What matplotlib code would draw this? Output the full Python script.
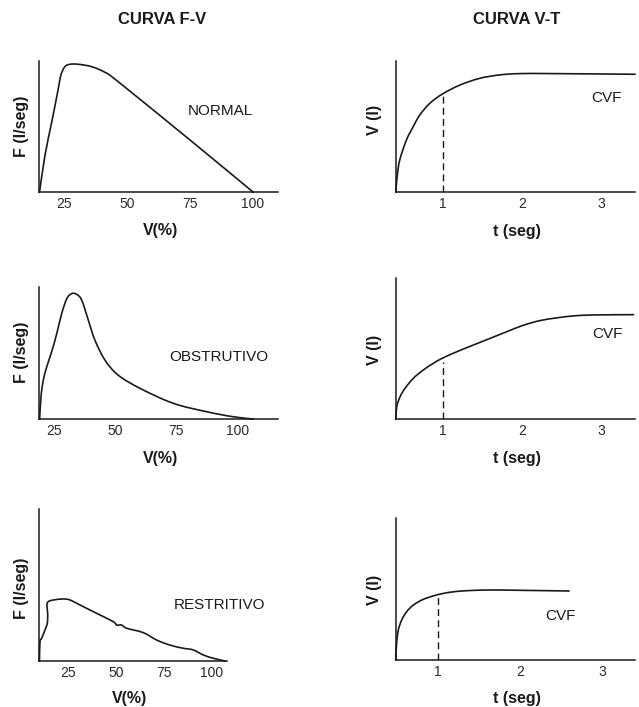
import matplotlib
matplotlib.use("Agg")
import matplotlib.pyplot as plt
from matplotlib.path import Path
from matplotlib.patches import PathPatch

plt.rcParams['font.family'] = ['Liberation Sans', 'DejaVu Sans']

W, H = 639, 707
INK = '#1a1a1a'

# ---------------- data ----------------
# F-V curves (V in %, F arbitrary units 0-10)
normal_v = [15.3, 17.5, 20.2, 22.8, 23.8, 25.4, 27.4, 30.7, 36.0, 41.3, 46.6, 75.0, 100.3]
normal_f = [0.0, 2.84, 5.38, 7.92, 8.93, 9.57, 9.75, 9.75, 9.57, 9.14, 8.42, 4.0, 0.0]

obst_v = [19.2, 19.75, 20.7, 22.1, 24.1, 26.2, 28.2, 30.3, 32.3, 34.3, 36.4, 39.1, 41.8,
          45.9, 51.3, 60.2, 73.8, 87.5, 98.3, 106.5]
obst_f = [0.0, 1.69, 2.95, 3.96, 5.10, 6.49, 8.0, 9.14, 9.52, 9.47, 9.02, 7.5, 5.98,
          4.47, 3.33, 2.33, 1.19, 0.55, 0.17, 0.0]

restr_v = [9.93, 10.19, 11.08, 12.8, 14.0, 14.2, 13.8, 14.5, 17.1, 22.4, 25.9, 31.1, 39.8,
           48.5, 50.2, 52.8, 55.4, 64.1, 71.1, 78.0, 85.0, 90.2, 95.4, 100.7, 106.8]
restr_f = [0.0, 1.27, 1.50, 2.04, 2.49, 3.14, 3.69, 3.91, 4.02, 4.09, 4.02, 3.69, 3.14,
           2.59, 2.37, 2.37, 2.16, 1.87, 1.38, 1.05, 0.84, 0.73, 0.40, 0.18, 0.0]

# V-T curves (t in s, V arbitrary units 0-10)
vt1_t = [0.41, 0.427, 0.46, 0.545, 0.63, 0.713, 0.84, 1.0, 1.22, 1.47, 1.72, 1.98, 2.40, 3.43]
vt1_v = [0.0, 1.19, 2.46, 3.99, 5.0, 5.89, 6.78, 7.49, 8.17, 8.68, 8.94, 9.04, 9.04, 8.99]

vt2_t = [0.409, 0.422, 0.464, 0.527, 0.632, 0.758, 0.884, 0.997, 1.18, 1.39, 1.60, 1.81,
         2.02, 2.23, 2.45, 2.65, 2.9, 3.41]
vt2_v = [0.0, 0.89, 1.60, 2.20, 2.91, 3.50, 3.97, 4.33, 4.79, 5.27, 5.74, 6.21,
         6.67, 7.0, 7.2, 7.33, 7.40, 7.42]

vt3_t = [0.489, 0.50, 0.521, 0.562, 0.623, 0.704, 0.825, 0.988, 1.15, 1.35, 1.64, 1.98, 2.60]
vt3_v = [0.0, 1.18, 2.12, 2.82, 3.41, 3.88, 4.28, 4.59, 4.78, 4.89, 4.94, 4.92, 4.87]

vef1_height = [7.49, 4.09, 4.59]   # dashed line at t=1 s

fv_ticks = [25, 50, 75, 100]
vt_ticks = [1, 2, 3]
fv_labels = ['NORMAL', 'OBSTRUTIVO', 'RESTRITIVO']
titles = ['CURVA F-V', 'CURVA V-T']

# ---------------- layout helpers ----------------
fig = plt.figure(figsize=(W / 100, H / 100), dpi=100)


def make_ax(l, r, t, b):
    ax = fig.add_axes([l / W, 1 - b / H, (r - l) / W, (b - t) / H])
    for s in ['top', 'right']:
        ax.spines[s].set_visible(False)
    for s in ['left', 'bottom']:
        ax.spines[s].set_linewidth(1.1)
        ax.spines[s].set_color(INK)
    ax.set_yticks([])
    ax.tick_params(axis='x', length=0, pad=3.5, labelsize=10, labelcolor='#2a2a2a')
    ax.set_ylim(0, 10)
    ax.patch.set_alpha(0)
    return ax


def smooth_line(ax, xs, ys, **kw):
    """Draw the read points joined by a smooth (Catmull-Rom style) Bezier path."""
    pts = list(zip(xs, ys))
    n = len(pts)
    verts = [pts[0]]
    codes = [Path.MOVETO]
    for i in range(n - 1):
        p0 = pts[i - 1] if i > 0 else pts[i]
        p1 = pts[i]
        p2 = pts[i + 1]
        p3 = pts[i + 2] if i + 2 < n else pts[i + 1]
        c1 = (p1[0] + (p2[0] - p0[0]) / 6, p1[1] + (p2[1] - p0[1]) / 6)
        c2 = (p2[0] - (p3[0] - p1[0]) / 6, p2[1] - (p3[1] - p1[1]) / 6)
        verts += [c1, c2, p2]
        codes += [Path.CURVE4] * 3
    patch = PathPatch(Path(verts, codes), facecolor='none', edgecolor=INK,
                      transform=ax.transData, clip_on=False, capstyle='round',
                      joinstyle='round', **kw)
    ax.add_patch(patch)


def ftext(x, y, s, **kw):
    fig.text(x / W, 1 - y / H, s, ha='center', va='center', color=INK, **kw)


fv_boxes = [(39.3, 278.3, 61, 192.3), (39.3, 278.3, 287.3, 419), (39.3, 226.7, 509.3, 661)]
fv_xlims = [(15.22, 110.2), (19.06, 116.7), (9.83, 107.65)]
fv_curves = [(normal_v, normal_f), (obst_v, obst_f), (restr_v, restr_f)]
fv_label_pos = [(87.0, 6.19), (92.6, 4.67), (103.8, 3.69)]
fv_ylab = [(21.7, 126.7), (21.7, 352), (21.7, 588)]
fv_xlab = [(161, 230), (161, 458.3), (130, 698.3)]

vt_boxes = [(395.7, 635, 61, 192.3), (395.7, 635, 278.3, 419.3), (395.7, 635, 518.3, 660)]
vt_xlims = [(0.409, 3.429), (0.409, 3.429), (0.489, 3.402)]
vt_curves = [(vt1_t, vt1_v), (vt2_t, vt2_v), (vt3_t, vt3_v)]
vt_label_pos = [(3.07, 7.16), (3.08, 6.05), (2.49, 3.13)]
vt_ylab = [(375, 120), (375, 350), (375, 590)]
vt_xlab = [(516.7, 231.7), (516.7, 458.3), (516.7, 698.3)]

for i in range(3):
    ax = make_ax(*fv_boxes[i])
    ax.set_xlim(*fv_xlims[i])
    ax.set_xticks(fv_ticks)
    smooth_line(ax, *fv_curves[i], lw=1.2)
    ax.text(*fv_label_pos[i], fv_labels[i], ha='center', va='center', fontsize=11, color=INK)
    ftext(*fv_ylab[i], 'F (l/seg)', rotation=90, fontsize=11.5, fontweight='bold')
    ftext(*fv_xlab[i], 'V(%)', fontsize=11.5, fontweight='bold')

    ax = make_ax(*vt_boxes[i])
    ax.set_xlim(*vt_xlims[i])
    ax.set_xticks(vt_ticks)
    smooth_line(ax, *vt_curves[i], lw=1.2)
    ax.plot([1, 1], [0, vef1_height[i]], color=INK, lw=1.0, ls=(0, (5, 3)))
    ax.text(*vt_label_pos[i], 'CVF', ha='center', va='center', fontsize=11, color=INK)
    ftext(*vt_ylab[i], 'V (l)', rotation=90, fontsize=11.5, fontweight='bold')
    ftext(*vt_xlab[i], 't (seg)', fontsize=11.5, fontweight='bold')

ftext(161.7, 20, titles[0], fontsize=12, fontweight='bold')
ftext(516.7, 20, titles[1], fontsize=12, fontweight='bold')

fig.savefig('out.png', dpi=100, facecolor='white')
